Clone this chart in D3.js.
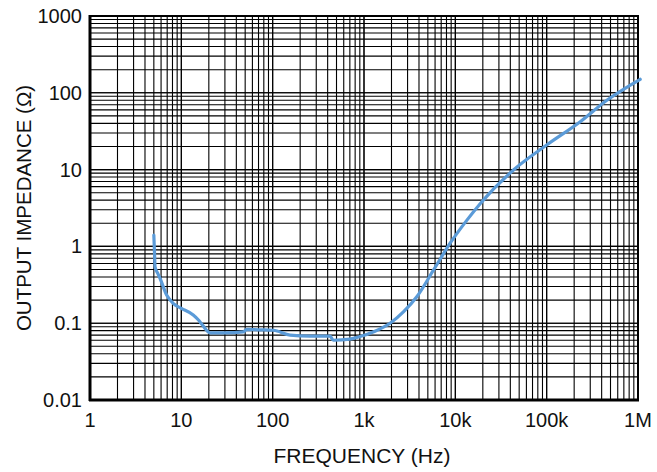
<!DOCTYPE html>
<html><head><meta charset="utf-8">
<script src="https://cdn.jsdelivr.net/npm/d3@7"></script>
<style>body{margin:0;background:#fff}svg{display:block}text{font-family:"Liberation Sans",Arial,sans-serif;fill:#111}</style>
</head><body>
<svg id="c" width="657" height="472"></svg>
<script>
const freq = [5.0,5.1,5.15,5.5,5.84,6.9,8.2,10,13.5,15.4,17,20.6,30,47.8,52,70,102,155,256,425,462,700,906,1300,1930,2700,3785,5760,8770,13400,18700,43300,100000,233000,456000,1057000];
const impedance = [1.4,0.75,0.54,0.45,0.385,0.233,0.18,0.156,0.128,0.11,0.095,0.075,0.075,0.077,0.083,0.082,0.081,0.070,0.068,0.068,0.060,0.062,0.067,0.078,0.0997,0.14,0.221,0.49,1.1,2.2,3.6,9.9,20.9,42,80,150];
const xTicks = [1,10,100,1e3,1e4,1e5,1e6];
const xTickLabels = ["1","10","100","1k","10k","100k","1M"];
const yTicks = [0.01,0.1,1,10,100,1000];
const yTickLabels = ["0.01","0.1","1","10","100","1000"];

const svg = d3.select("#c");
const L=90,R=638,T=16,B=400;
const x = d3.scaleLog().domain([1,1e6]).range([L,R]);
const y = d3.scaleLog().domain([0.01,1000]).range([B,T]);

// minor + major grid
const xGrid=[], yGrid=[];
for(let d=1; d<1e6; d*=10) for(let k=1;k<=10;k++) xGrid.push(d*k);
for(let d=0.01; d<999; d*=10) for(let k=1;k<=10;k++) yGrid.push(d*k);
const g = svg.append("g");
g.selectAll(".vx").data(xGrid).join("line")
  .attr("x1",d=>x(d)).attr("x2",d=>x(d)).attr("y1",T).attr("y2",B)
  .attr("stroke","#000").attr("stroke-width",1.1);
g.selectAll(".hy").data(yGrid).join("line")
  .attr("y1",d=>y(d)).attr("y2",d=>y(d)).attr("x1",L).attr("x2",R)
  .attr("stroke","#000").attr("stroke-width",1.1);
svg.append("rect").attr("x",L).attr("y",T).attr("width",R-L).attr("height",B-T)
  .attr("fill","none").attr("stroke","#000").attr("stroke-width",2);
svg.append("line").attr("x1",L).attr("x2",L).attr("y1",T-1).attr("y2",B+1).attr("stroke","#000").attr("stroke-width",3);
svg.append("line").attr("x1",L-1).attr("x2",R+1).attr("y1",B).attr("y2",B).attr("stroke","#000").attr("stroke-width",3);

// tick labels
svg.selectAll(".xl").data(xTicks).join("text")
  .attr("x",d=>x(d)).attr("y",427).attr("text-anchor","middle")
  .attr("font-size",20).text((d,i)=>xTickLabels[i]);
svg.selectAll(".yl").data(yTicks).join("text")
  .attr("x",82).attr("y",d=>y(d)).attr("dy","0.35em").attr("text-anchor","end")
  .attr("font-size",20).text((d,i)=>yTickLabels[i]);

svg.append("text").attr("x",362).attr("y",463).attr("text-anchor","middle")
  .attr("font-size",21).text("FREQUENCY (Hz)");
svg.append("text").attr("transform",`translate(31,${(T+B)/2}) rotate(-90)`)
  .attr("text-anchor","middle").attr("font-size",20.5).text("OUTPUT IMPEDANCE (Ω)");

const data = freq.map((f,i)=>[f,impedance[i]]);
svg.append("path").datum(data)
  .attr("d",d3.line().x(d=>x(d[0])).y(d=>y(d[1])).curve(d3.curveMonotoneX))
  .attr("fill","none").attr("stroke","#5b9bd8").attr("stroke-width",3.2)
  .attr("stroke-linejoin","round").attr("stroke-linecap","round");
</script>
</body></html>
